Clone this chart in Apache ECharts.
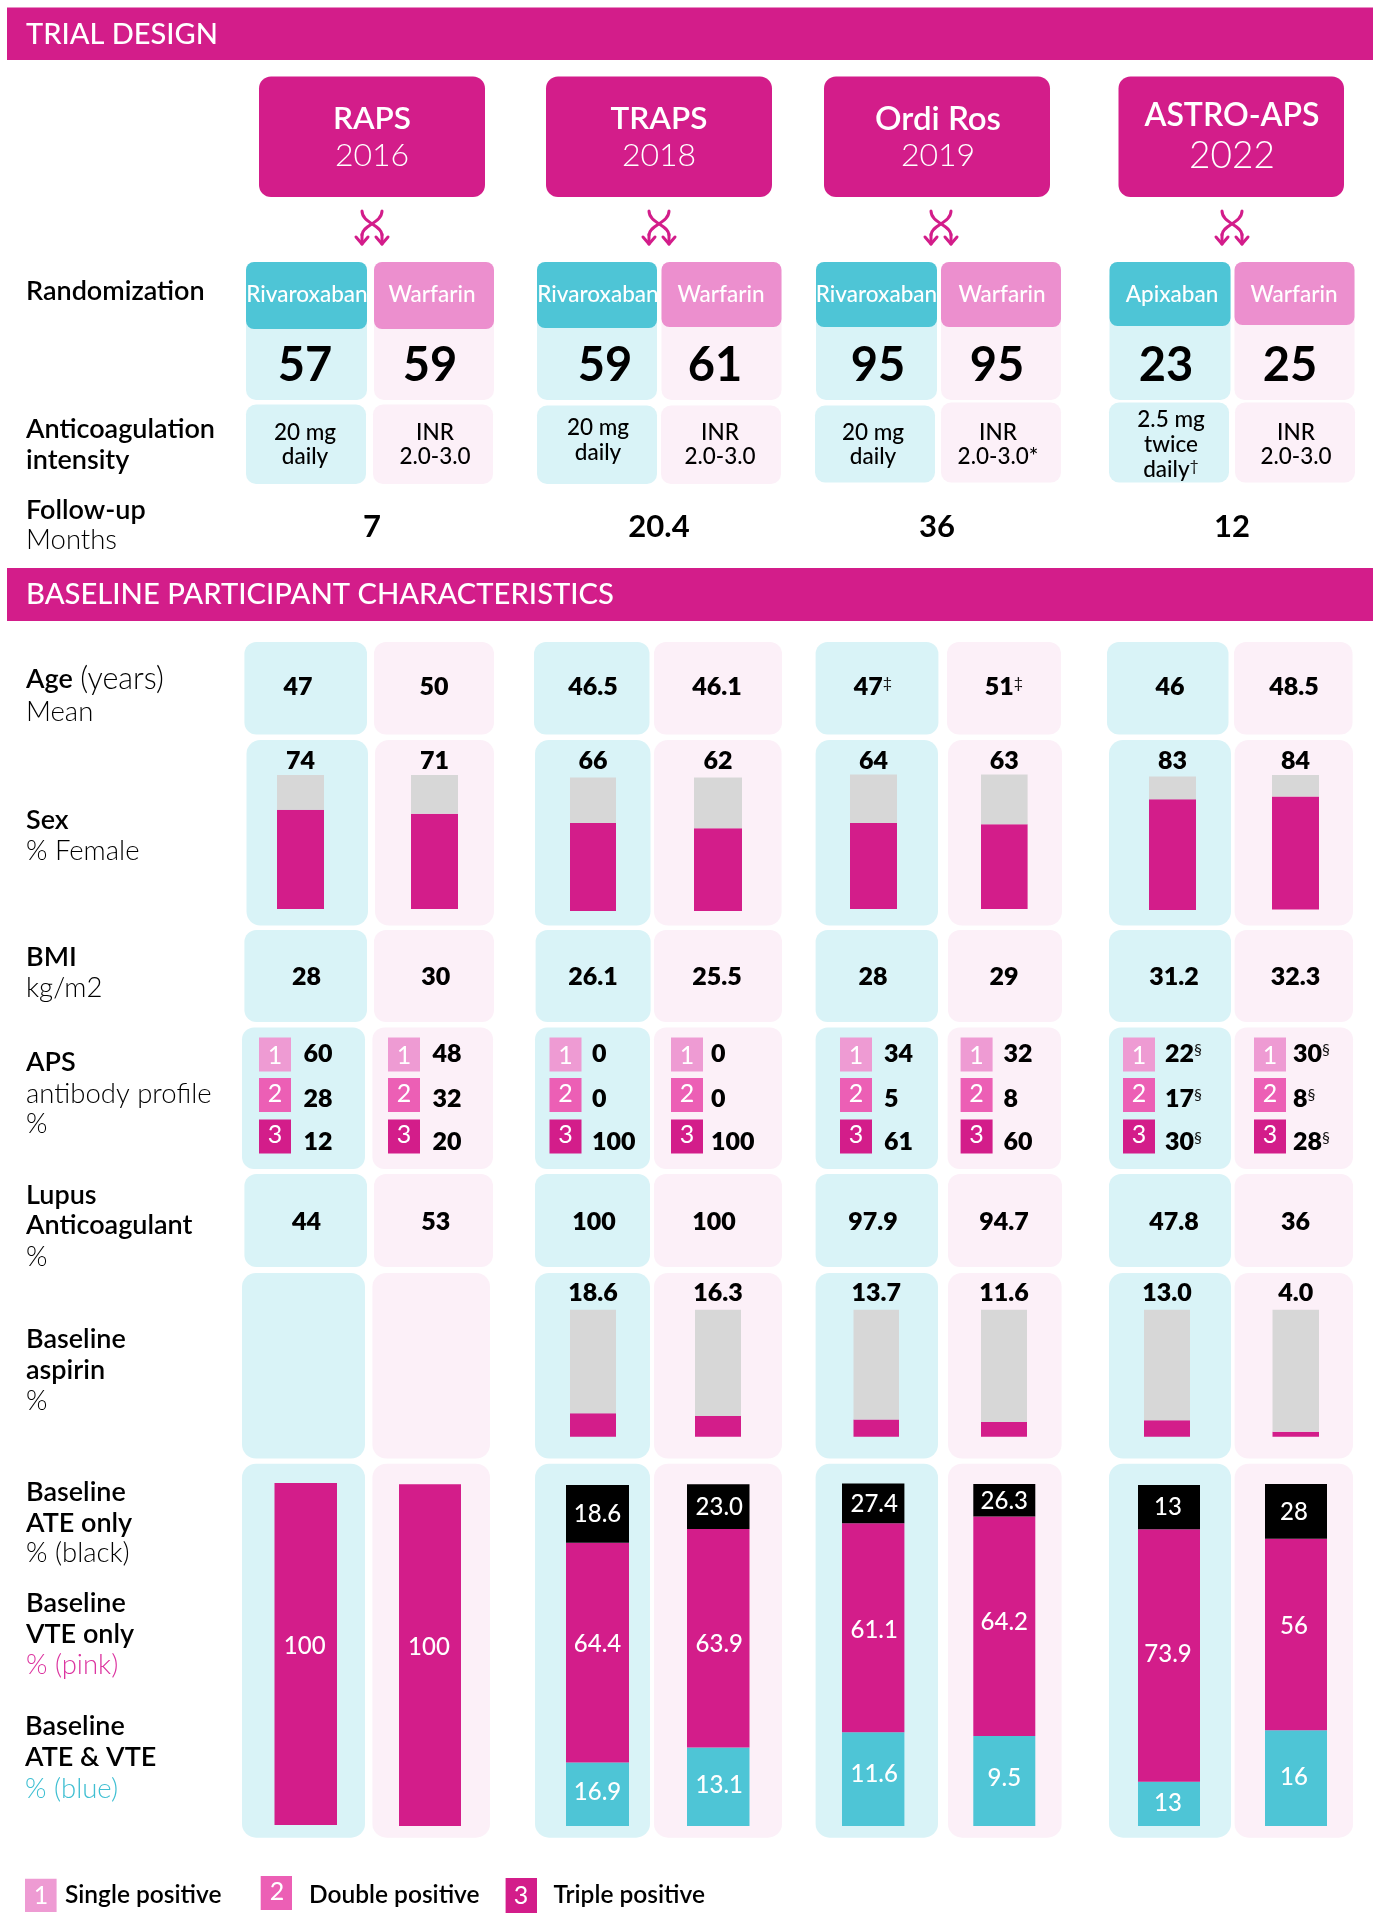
<!DOCTYPE html>
<html><head><meta charset="utf-8">
<style>html,body{margin:0;padding:0;background:#fff}#c{width:1380px;height:1920px}</style>
<script src="https://cdn.jsdelivr.net/npm/echarts@6/dist/echarts.min.js"></script>
</head><body><div id="c"></div>
<script>
/* ---------- data ---------- */
var trialNames = ['RAPS','TRAPS','Ordi Ros','ASTRO-APS'];
var trialYears = ['2016','2018','2019','2022'];
var armNames = ['Rivaroxaban','Warfarin','Rivaroxaban','Warfarin','Rivaroxaban','Warfarin','Apixaban','Warfarin'];
var randomized = ['57','59','59','61','95','95','23','25'];
var followUp = ['7','20.4','36','12'];
var ageMean = ['47','50','46.5','46.1','47{s|‡}','51{s|‡}','46','48.5'];
var femalePct = [74,71,66,62,64,63,83,84];
var bmi = ['28','30','26.1','25.5','28','29','31.2','32.3'];
var apsSingle = ['60','48','0','0','34','32','22{s|§}','30{s|§}'];
var apsDouble = ['28','32','0','0','5','8','17{s|§}','8{s|§}'];
var apsTriple = ['12','20','100','100','61','60','30{s|§}','28{s|§}'];
var lupus = ['44','53','100','100','97.9','94.7','47.8','36'];
var aspirinPct = [18.6,16.3,13.7,11.6,13.0,4.0];
var aspirinLabels = ['18.6','16.3','13.7','11.6','13.0','4.0'];
/* segment sizes as drawn, top to bottom (RAPS arms are all VTE) */
var segBlack = [0,0,16.9,13.1,11.6,9.5,13,16];
var segPink  = [100,100,64.4,63.9,61.1,64.2,73.9,56];
var segBlue  = [0,0,18.6,23.0,27.4,26.3,13,28];
/* numbers as printed on those segments */
var printedBlack = ['','','18.6','23.0','27.4','26.3','13','28'];
var printedPink  = ['100','100','64.4','63.9','61.1','64.2','73.9','56'];
var printedBlue  = ['','','16.9','13.1','11.6','9.5','13','16'];

/* ---------- palette / layout ---------- */
var MAG='#D31D8A', CY='#4EC5D6', PCY='#D9F3F7', PPK='#FCF0F8', PK='#EC8FCE', GR='#D7D7D7';
var B1='#EE9BD3', B2='#EC5FB5', B3='#D31D8A';
var FF='Lato';
var g=[];
function rect(x,y,w,h,fill,r,z){g.push({type:'rect',z:z||0,silent:true,shape:{x:x,y:y,width:w,height:h,r:r||0},style:{fill:fill}});}
function txt(t,x,y,size,weight,fill,align,rich){
  var st={text:t,x:x,y:y,fontFamily:FF,fontSize:size,fontWeight:weight,fill:fill||'#000',align:align||'left',verticalAlign:'middle'};
  if(rich) st.rich=rich;
  g.push({type:'text',z:20,silent:true,style:st});
}
var supRich={s:{fontFamily:FF,fontSize:16,fontWeight:400,fill:'#111',verticalAlign:'top',padding:[0,0,8,0]}};

/* header bands */
rect(7,7.5,1366,52.5,MAG);
rect(7,568,1366,53,MAG);
txt('TRIAL DESIGN',26,34.5,29,500,'#fff');
txt('BASELINE PARTICIPANT CHARACTERISTICS',26,595,29.2,500,'#fff');

/* trial boxes */
var trialBox=[[259,226],[546,226],[824,226],[1118.5,225.5]];
var trialCx=[372,659,938,1232];
trialBox.forEach(function(b,i){
  rect(b[0],76.5,b[1],120.5,MAG,12);
  var big=i===3;
  txt(trialNames[i],trialCx[i],big?116:119,i===2?33:(big?32:31.5),600,'#fff','center');
  txt(trialYears[i],trialCx[i],156,big?37:32,300,'#fff','center');
  /* crossing arrows */
  var cx=[372,659,941,1232][i], ty=209, ls={stroke:MAG,lineWidth:3,fill:null,lineCap:'round',lineJoin:'round'};
  [[-1],[1]].forEach(function(s){
    var d=s[0]*10;
    g.push({type:'bezierCurve',silent:true,z:5,x:cx,y:ty,shape:{x1:-d,y1:2,cpx1:-d,cpy1:14,cpx2:d,cpy2:16,x2:d,y2:26},style:ls});
    g.push({type:'polyline',silent:true,z:5,x:cx,y:ty,shape:{points:[[d,25],[d,35]]},style:ls});
    g.push({type:'polyline',silent:true,z:5,x:cx,y:ty,shape:{points:[[d-6,28],[d,35],[d+6,28]]},style:ls});
  });
});

/* randomisation panels */
var randX=[[246,121],[374,120],[537,120],[661.5,120],[816,121],[941,120],[1109.5,121],[1234.5,120]];
var randH=[67,67,66,65,65,65,64,63];
var randLabelX=[307,432,598,721,876.5,1002,1172,1294];
var randNumX=[305,430,605,715,878,997,1166,1290];
randX.forEach(function(b,i){
  rect(b[0],266,b[1],134,i%2?PPK:PCY,10);
  rect(b[0],262,b[1],randH[i],i%2?PK:CY,8,2);
  txt(armNames[i],randLabelX[i],294.5,22.5,500,'#fff','center');
  txt(randomized[i],randNumX[i],366,47,700,'#000','center');
});
/* anticoagulation panels */
var acX=[[246,120,404.5],[373,120,404.5],[537,120,405.5],[661,120,405.5],[815,120,405.5],[941,120,402.5],[1109,120,402.5],[1235,120,402.5]];
acX.forEach(function(b,i){rect(b[0],b[2],b[1],484-b[2]-(i>3?1.5:0),i%2?PPK:PCY,10);});
var W=500,AC=22.5;
[[ '20 mg',305,433],['daily',305,457],['INR',435,433],['2.0-3.0',435,456.5],
 ['20 mg',598,428],['daily',598,453],['INR',720,433],['2.0-3.0',720,457],
 ['20 mg',873,433],['daily',873,457],['INR',998,433],['2.0-3.0*',998,457],
 ['2.5 mg',1171,420],['twice',1171,445],['daily{s|†}',1171,470],['INR',1296,433],['2.0-3.0',1296,457]
].forEach(function(t){txt(t[0],t[1],t[2],AC,W,'#000','center',supRich);});
followUp.forEach(function(v,i){txt(v,[372,659,937,1232][i],527,31,700,'#000','center');});

/* left-hand row labels */
var LB=[['Randomization',291,1],['Anticoagulation',429,1],['intensity',460,1],['Follow-up',510,1],['Months',540,0],
 ['Mean',711.5,0],['Sex',820,1],['% Female',850.6,0],['BMI',957,1],['kg/m2',988,0],
 ['APS',1062,1],['antibody profile',1093.5,0],['%',1124,0],['Lupus',1194.5,1],['Anticoagulant',1225,1],['%',1256.5,0],
 ['Baseline',1338.7,1],['aspirin',1370,1],['%',1401,0],['Baseline',1491.5,1],['ATE only',1522.6,1],['% (black)',1553,0],
 ['Baseline',1603,1],['VTE only',1634,1]];
LB.forEach(function(l){txt(l[0],26,l[1]+0.4,l[2]?27:27.5,l[2]?600:300,'#000');});
txt('{b|Age} {l|(years)}',26,679.5,27,300,'#000','left',{b:{fontFamily:FF,fontSize:27,fontWeight:600,fill:'#000'},l:{fontFamily:FF,fontSize:30.5,fontWeight:300,fill:'#000'}});
txt('% (pink)',26,1665.4,27.5,300,'#DC35A0');
txt('Baseline',25,1726.4,27,600,'#000');txt('ATE & VTE',25,1757.4,27,600,'#000');
txt('% (blue)',25,1789,27.5,300,'#3FBFD2');

/* baseline rows */
var colA=[[244.4,122.6],[374,120],[534,115.5],[654,128],[815.6,122.8],[947,114],[1107,121.5],[1234,118.5]];
var colB=[[244.4,122.6],[374,120],[535.6,115],[654,128],[815.6,122.4],[948,114],[1109,122],[1234.6,118.4]];
var colS=[[246.5,121.5],[375,119],[535,115.5],[654,127.6],[815.6,122.4],[948,114],[1109,122],[1234.6,118.4]];
var colP=[[242,123],[372.4,120.6],[535,115],[654,128],[815.6,122.4],[947.6,113.4],[1109,122],[1234.6,118.4]];
var colL=[[244.4,122.6],[374,119],[535,115],[654,128],[815.6,122.4],[948,114],[1109,122],[1234.6,118.4]];
var colX=[[242,123],[372.4,117.6],[535,115],[654,128],[815.6,122.4],[948,113.6],[1109,122],[1234.6,118.4]];
function panels(col,y,h,r){col.forEach(function(b,i){rect(b[0],y,b[1],h,i%2?PPK:PCY,r||12);});}
panels(colA,642,92.5);
panels(colS,740,185.5,14);
panels(colB,930,92);
panels(colP,1027.4,141.6);
panels(colL,1174,93);
panels(colX,1273,185.6,14);
panels(colX,1463.7,374,14);

var VF=25,VW=800;
function vals(arr,xs,y){arr.forEach(function(v,i){txt(v,xs[i],y,VF,VW,'#000','center',supRich);});}
vals(ageMean,[298,434,593,717,873,1004,1170,1294],687);
vals(bmi,[306.6,435.7,593,717,873,1004,1174,1295.5],977);
vals(lupus,[306.6,435.7,594,714,873,1004,1174,1295.5],1222);

/* antibody profile badges */
var badgeX=[259,388,549.5,671,840,960.6,1123,1254];
var apsValX=[303.5,432.6,592,711,884,1003.5,1165,1293];
var apsRows=[[apsSingle,1037.5,B1,'1',1054],[apsDouble,1078,B2,'2',1099],[apsTriple,1119.4,B3,'3',1142]];
apsRows.forEach(function(r){
  r[0].forEach(function(v,i){
    rect(badgeX[i],r[1],32,34,r[2],0,3);
    txt(r[3],badgeX[i]+16,r[1]+(r[3]==='1'?18:16),25,400,'#fff','center');
    txt(v,apsValX[i],r[4],VF,VW,'#000','left',supRich);
  });
});

/* legend */
[[25,1878.7,31.6,33.3,B1,'1',41,1896,65,'Single positive'],[260.7,1876,31.3,34,B2,'2',277,1892,309,'Double positive'],[505.6,1878,31.4,35,B3,'3',521,1896,553.5,'Triple positive']].forEach(function(l){
  rect(l[0],l[1],l[2],l[3],l[4],0,3);
  txt(l[5],l[6],l[7],25,400,'#fff','center');
  txt(l[9],l[8],1895.5,24.5,600,'#000');
});

/* ---------- bars, one grid per arm ---------- */
var grids=[],xAxes=[],yAxes=[],series=[];
function addGrid(left,top,width,height,max){
  var idx=grids.length;
  grids.push({left:left,top:top,width:width,height:height,containLabel:false,show:false});
  xAxes.push({type:'category',gridIndex:idx,data:['arm'],show:false});
  yAxes.push({type:'value',gridIndex:idx,min:0,max:max,show:false});
  return idx;
}
function addSeg(idx,val,color,label){
  series.push({type:'bar',xAxisIndex:idx,yAxisIndex:idx,stack:'arm'+idx,data:[val],barWidth:'100%',silent:true,animation:false,
    itemStyle:{color:color},label:label||{show:false}});
}
var headLabel=function(t,d){return {show:true,position:'top',distance:d,formatter:t,color:'#000',fontFamily:FF,fontSize:VF,fontWeight:VW};};
var sexBars=[[277,775,47,134],[411,775,47,134],[570,777.6,46,133.4],[694,777.6,48,133.4],[850,774.5,47,134.5],[981,774.5,46.6,134.5],[1149,776.6,47,133.4],[1272,775,47,134.6]];
femalePct.forEach(function(v,i){
  var b=sexBars[i],k=addGrid(b[0],b[1],b[2],b[3],100);
  addSeg(k,v,MAG);
  addSeg(k,100-v,GR,headLabel(String(v),b[1]-775+2));
});
var aspBars=[[570,46],[695,46],[853.5,45.5],[981,46],[1144,46],[1272.5,46.5]];
aspirinPct.forEach(function(v,i){
  var b=aspBars[i],k=addGrid(b[0],1309.7,b[1],127.1,100);
  addSeg(k,v,MAG);
  addSeg(k,100-v,GR,headLabel(aspirinLabels[i],4));
});
var evBars=[[274.5,1483,62.5,342],[399,1484.3,62,341.7],[566,1485,63,341],[687,1484.3,62.5,341.7],[842,1483.5,62.4,342.5],[973.3,1484,62,342],[1138,1485,62,341],[1265,1484,62,342]];
var evLabelDy=[[0,-8,-1],[0,-8,-1],[0,-8,-2],[1,6,-1],[1,3,-5],[1,-4,-3],[0,-1,-1],[1,-8,-1]];
var evLabelDx=[-1,-1,0,1,1,0,-1,-2];
function segLabel(t,dx,dy){return t?{show:true,position:'inside',offset:[dx,dy],formatter:t,color:'#fff',fontFamily:FF,fontSize:24,fontWeight:500}:{show:false};}
segPink.forEach(function(p,i){
  var b=evBars[i],tot=segBlue[i]+p+segBlack[i],k=addGrid(b[0],b[1],b[2],b[3],tot),d=evLabelDy[i],dx=evLabelDx[i];
  if(segBlue[i])addSeg(k,segBlue[i],CY,segLabel(printedBlue[i],dx,d[2]));
  addSeg(k,p,MAG,segLabel(printedPink[i],dx,d[1]));
  if(segBlack[i])addSeg(k,segBlack[i],'#000',segLabel(printedBlack[i],dx,d[0]));
});

var chart=echarts.init(document.getElementById('c'),null,{renderer:'canvas',width:1380,height:1920});
chart.setOption({backgroundColor:'#fff',animation:false,textStyle:{fontFamily:FF},tooltip:{show:false},legend:{show:false},
  grid:grids,xAxis:xAxes,yAxis:yAxes,series:series,graphic:{elements:g}});
</script></body></html>
